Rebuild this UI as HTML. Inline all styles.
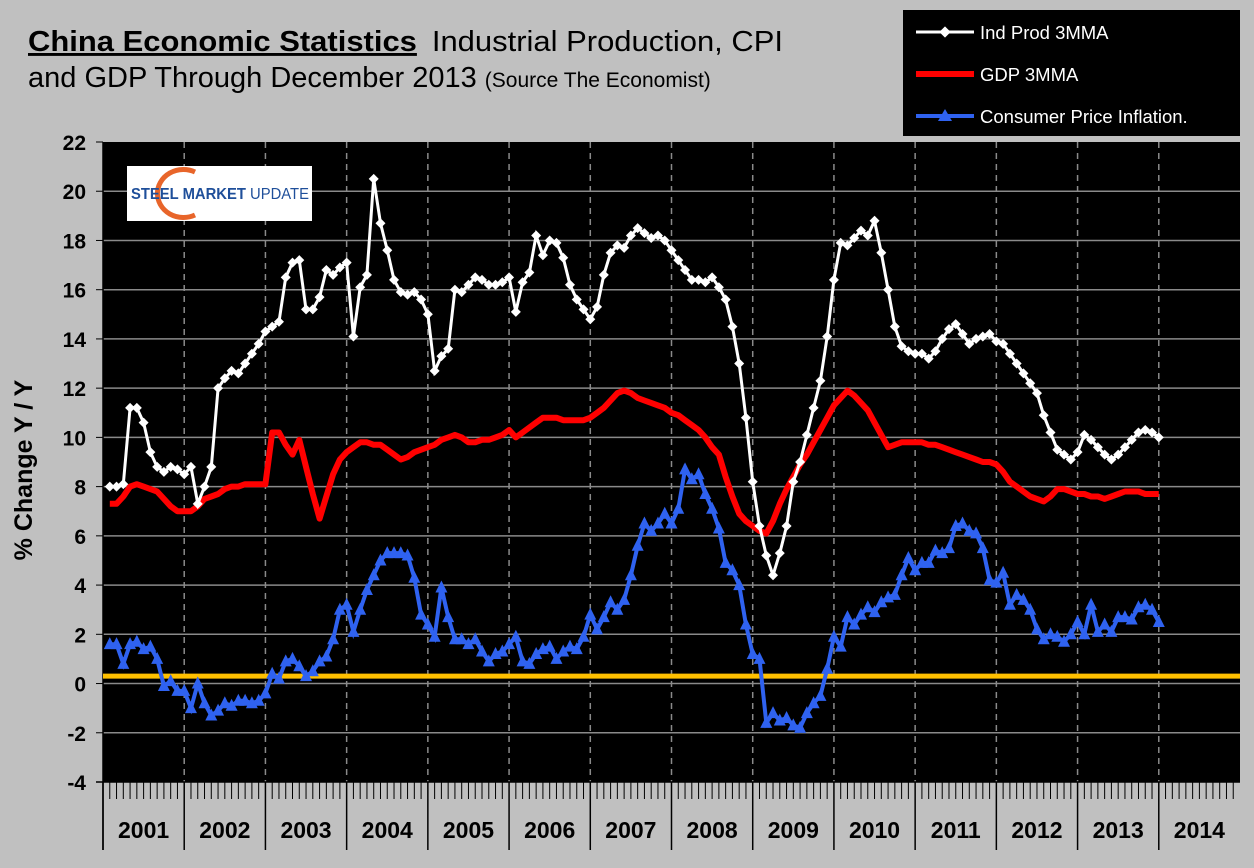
<!DOCTYPE html>
<html><head><meta charset="utf-8"><style>
body{margin:0;background:#c0c0c0;}
svg{display:block;font-family:"Liberation Sans",sans-serif;}
</style></head><body>
<svg id="chart" width="1254" height="868" viewBox="0 0 1254 868" xmlns="http://www.w3.org/2000/svg">
<rect x="0" y="0" width="1254" height="868" fill="#c0c0c0"/>
<text x="28" y="51" font-size="29" fill="#000" textLength="755" lengthAdjust="spacingAndGlyphs"><tspan font-weight="bold" text-decoration="underline">China Economic Statistics</tspan><tspan dx="14">Industrial Production, CPI</tspan></text>
<text x="28" y="87" font-size="29" fill="#000">and GDP Through December 2013 <tspan font-size="21">(Source The Economist)</tspan></text>
<rect x="903" y="10" width="337" height="126" fill="#000"/>
<g>
<line x1="916" y1="32" x2="974" y2="32" stroke="#fff" stroke-width="3"/>
<rect x="941" y="28" width="8" height="8" fill="#fff" transform="rotate(45 945 32)"/>
<text x="980" y="39" font-size="18.5" fill="#fff">Ind Prod 3MMA</text></g>
<g>
<line x1="916" y1="74" x2="974" y2="74" stroke="#f00" stroke-width="6"/>
<text x="980" y="81" font-size="18.5" fill="#fff">GDP 3MMA</text></g>
<g>
<line x1="916" y1="116" x2="974" y2="116" stroke="#2f62f0" stroke-width="4"/>
<polygon points="945,109 952,121 938,121" fill="#2f62f0"/>
<text x="980" y="123" font-size="18.5" fill="#fff">Consumer Price Inflation.</text></g>
<rect x="103" y="142" width="1137" height="640" fill="#000"/>
<g id="grid"></g><g id="axes"></g><g id="series"></g>
<g>
<rect x="127" y="166" width="185" height="55" fill="#fff"/>
<path d="M195,172 A26,24 0 1 0 195,215" fill="none" stroke="#e8652a" stroke-width="5"/>
<text x="131" y="199" font-size="16" font-weight="bold" fill="#1f4f9a" textLength="178" lengthAdjust="spacingAndGlyphs">STEEL MARKET <tspan font-weight="normal">UPDATE</tspan></text>
</g>
<text transform="translate(32,470) rotate(-90)" text-anchor="middle" font-size="25" font-weight="bold">% Change Y / Y</text>
</svg>
<script>
const years=["2001","2002","2003","2004","2005","2006","2007","2008","2009","2010","2011","2012","2013","2014"];
const yTicks=[-4,-2,0,2,4,6,8,10,12,14,16,18,20,22];
const indProd=[8,8,8.1,11.2,11.2,10.6,9.4,8.8,8.6,8.8,8.7,8.5,
8.8,7.3,8.0,8.8,12.0,12.4,12.7,12.6,13.0,13.4,13.8,14.3,
14.5,14.7,16.5,17.1,17.2,15.2,15.2,15.7,16.8,16.6,16.9,17.1,
14.1,16.1,16.6,20.5,18.7,17.6,16.4,15.9,15.8,15.9,15.6,15.0,
12.7,13.3,13.6,16.0,15.9,16.2,16.5,16.4,16.2,16.2,16.3,16.5,
15.1,16.3,16.7,18.2,17.4,18.0,17.9,17.3,16.2,15.6,15.2,14.8,
15.3,16.6,17.5,17.8,17.7,18.2,18.5,18.3,18.1,18.2,18.0,17.6,
17.2,16.8,16.4,16.4,16.3,16.5,16.1,15.6,14.5,13.0,10.8,8.2,
6.4,5.2,4.4,5.3,6.4,8.2,9.0,10.1,11.2,12.3,14.1,16.4,
17.9,17.8,18.1,18.4,18.2,18.8,17.5,16.0,14.5,13.7,13.5,13.4,
13.4,13.2,13.5,14.0,14.4,14.6,14.2,13.8,14.0,14.1,14.2,13.9,
13.8,13.4,13.0,12.6,12.2,11.8,10.9,10.2,9.5,9.3,9.1,9.4,
10.1,9.9,9.6,9.3,9.1,9.3,9.6,9.9,10.2,10.3,10.2,10.0];
const gdp=[7.3,7.3,7.6,8.0,8.1,8.0,7.9,7.8,7.5,7.2,7.0,7.0,
7.0,7.2,7.5,7.6,7.7,7.9,8.0,8.0,8.1,8.1,8.1,8.1,
10.2,10.2,9.7,9.3,9.9,8.8,7.7,6.7,7.6,8.5,9.1,9.4,
9.6,9.8,9.8,9.7,9.7,9.5,9.3,9.1,9.2,9.4,9.5,9.6,
9.7,9.9,10.0,10.1,10.0,9.8,9.8,9.9,9.9,10.0,10.1,10.3,
10.0,10.2,10.4,10.6,10.8,10.8,10.8,10.7,10.7,10.7,10.7,10.8,
11.0,11.2,11.5,11.8,11.9,11.8,11.6,11.5,11.4,11.3,11.2,11.0,
10.9,10.7,10.5,10.3,10.0,9.6,9.3,8.4,7.6,6.9,6.6,6.4,
6.2,6.1,6.6,7.3,7.9,8.4,8.9,9.3,9.8,10.3,10.8,11.3,
11.6,11.9,11.7,11.4,11.1,10.6,10.1,9.6,9.7,9.8,9.8,9.8,
9.8,9.7,9.7,9.6,9.5,9.4,9.3,9.2,9.1,9.0,9.0,8.9,
8.6,8.2,8.0,7.8,7.6,7.5,7.4,7.6,7.9,7.9,7.8,7.7,
7.7,7.6,7.6,7.5,7.6,7.7,7.8,7.8,7.8,7.7,7.7,7.7];
const cpi=[1.6,1.6,0.8,1.6,1.7,1.4,1.5,1.0,-0.1,0.1,-0.3,-0.3,
-1.0,0.0,-0.8,-1.3,-1.1,-0.8,-0.9,-0.7,-0.7,-0.8,-0.7,-0.4,
0.4,0.2,0.9,1.0,0.7,0.3,0.5,0.9,1.1,1.8,3.0,3.2,
2.1,3.0,3.8,4.4,5.0,5.3,5.3,5.3,5.2,4.3,2.8,2.4,
1.9,3.9,2.7,1.8,1.8,1.6,1.8,1.3,0.9,1.2,1.3,1.6,
1.9,0.9,0.8,1.2,1.4,1.5,1.0,1.3,1.5,1.4,1.9,2.8,
2.2,2.7,3.3,3.0,3.4,4.4,5.6,6.5,6.2,6.5,6.9,6.5,
7.1,8.7,8.3,8.5,7.7,7.1,6.3,4.9,4.6,4.0,2.4,1.2,
1.0,-1.6,-1.2,-1.5,-1.4,-1.7,-1.8,-1.2,-0.8,-0.5,0.6,1.9,
1.5,2.7,2.4,2.8,3.1,2.9,3.3,3.5,3.6,4.4,5.1,4.6,
4.9,4.9,5.4,5.3,5.5,6.4,6.5,6.2,6.1,5.5,4.2,4.1,
4.5,3.2,3.6,3.4,3.0,2.2,1.8,2.0,1.9,1.7,2.0,2.5,
2.0,3.2,2.1,2.4,2.1,2.7,2.7,2.6,3.1,3.2,3.0,2.5];
const refLine=0.3;

const NS="http://www.w3.org/2000/svg";
const L=103,R=1240,T=142,B=782,YMIN=-4,YMAX=22;
const yearW=(R-L)/years.length, monthW=yearW/12;
const yS=v=>T+(YMAX-v)*(B-T)/(YMAX-YMIN);
const xM=i=>L+(i+1)*monthW;
function mk(tag,attrs,parent){const e=document.createElementNS(NS,tag);for(const k in attrs)e.setAttribute(k,attrs[k]);parent.appendChild(e);return e;}
const grid=document.getElementById('grid'),axes=document.getElementById('axes'),series=document.getElementById('series');
yTicks.forEach(v=>{
  const y=yS(v);
  if(v>YMIN&&v<YMAX){const g=mk('line',{x1:L,x2:R,y1:y,y2:y,stroke:'#8a8a8a','stroke-width':1.5},grid);
  
  }
  const t=mk('text',{x:86,y:y+8,'text-anchor':'end','font-size':21,'font-weight':'bold'},axes);
  t.textContent=v;
  
  
  mk('line',{x1:96,x2:103,y1:y,y2:y,stroke:'#000'},axes);
});
years.forEach((yr,k)=>{
  const x0=L+k*yearW;
  if(k>0){const g=mk('line',{x1:x0,x2:x0,y1:T,y2:B,stroke:'#8a8a8a','stroke-width':1.5,'stroke-dasharray':'6,5'},grid);
  
  }
  mk('line',{x1:x0,x2:x0,y1:B,y2:850,stroke:'#000','stroke-width':1.5},axes);
  for(let m=1;m<12;m++){const xm=x0+m*monthW;mk('line',{x1:xm,x2:xm,y1:B,y2:799,stroke:'#000','stroke-width':1},axes);}
  const t=mk('text',{x:x0+yearW/2,y:838,'text-anchor':'middle','font-size':23,'font-weight':'bold'},axes);
  t.textContent=yr;
  
  
});
mk('line',{x1:L,x2:L,y1:T,y2:850,stroke:'#000','stroke-width':1.5},axes);
mk('line',{x1:96,x2:R,y1:B,y2:B,stroke:'#000','stroke-width':1.5},axes);
const ref=mk('line',{x1:L,x2:R,y1:yS(refLine),y2:yS(refLine),stroke:'#ffc000','stroke-width':5},series);


function pts(arr){return arr.map((v,i)=>xM(i).toFixed(1)+','+yS(v).toFixed(1)).join(' ');}
const gl=mk('polyline',{points:pts(gdp),fill:'none',stroke:'#f00','stroke-width':6,'stroke-linejoin':'round'},series);


const il=mk('polyline',{points:pts(indProd),fill:'none',stroke:'#fff','stroke-width':3},series);


indProd.forEach((v,i)=>{const x=xM(i),y=yS(v);
  const d=mk('polygon',{points:`${x},${y-5} ${x+5},${y} ${x},${y+5} ${x-5},${y}`,fill:'#fff'},series);
  
  });
const cl=mk('polyline',{points:pts(cpi),fill:'none',stroke:'#2f62f0','stroke-width':4},series);


cpi.forEach((v,i)=>{const x=xM(i),y=yS(v);
  const d=mk('polygon',{points:`${x},${y-7} ${x+6},${y+5} ${x-6},${y+5}`,fill:'#2f62f0'},series);
  
  });
</script>
</body></html>
